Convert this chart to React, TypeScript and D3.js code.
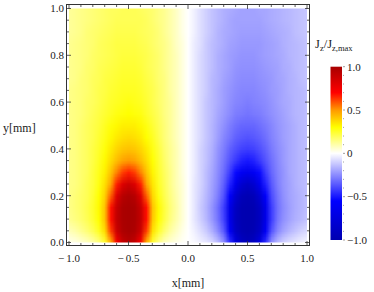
import * as d3 from "d3";
import { useMemo } from "react";

// sample grid (mm)
const gridX = [
  -1, -0.95, -0.9, -0.85, -0.8, -0.75, -0.7, -0.65, -0.6, -0.55, -0.5, -0.45, -0.4, -0.35, -0.3, -0.25, -0.2,
  -0.15, -0.1, -0.05, 0, 0.05, 0.1, 0.15, 0.2, 0.25, 0.3, 0.35, 0.4, 0.45, 0.5, 0.55, 0.6, 0.65, 0.7, 0.75,
  0.8, 0.85, 0.9, 0.95, 1,
];
const gridY = [0, 0.05, 0.1, 0.15, 0.2, 0.25, 0.3, 0.35, 0.4, 0.45, 0.5, 0.55, 0.6, 0.65, 0.7, 0.75, 0.8, 0.85, 0.9, 0.95, 1];

// Jz/Jz,max for x = -1 .. 0, one row per gridY value (red lobe)
const jzLeft = [
  [.02, .03, .05, .07, .10, .15, .24, .45, .72, .90, .95, .90, .72, .45, .24, .14, .08, .05, .03, .01, 0],
  [.08, .10, .13, .16, .20, .26, .37, .62, .88, .98, 1.0, .98, .88, .62, .36, .25, .17, .11, .07, .03, 0],
  [.13, .15, .17, .20, .24, .30, .42, .68, .91, .99, 1.0, .99, .91, .68, .41, .30, .22, .15, .10, .05, 0],
  [.14, .16, .18, .21, .25, .31, .42, .68, .90, .99, 1.0, .99, .90, .68, .42, .31, .23, .16, .11, .05, 0],
  [.14, .16, .18, .20, .24, .30, .39, .58, .82, .95, .98, .95, .82, .58, .38, .28, .21, .15, .10, .05, 0],
  [.14, .15, .17, .20, .23, .28, .36, .48, .66, .82, .88, .82, .66, .48, .35, .26, .20, .14, .09, .05, 0],
  [.14, .15, .17, .19, .23, .27, .33, .42, .53, .62, .66, .62, .53, .42, .32, .25, .19, .14, .09, .04, 0],
  [.14, .15, .17, .19, .22, .26, .31, .37, .43, .48, .50, .48, .43, .37, .30, .24, .18, .13, .09, .04, 0],
  [.14, .15, .17, .19, .22, .25, .29, .34, .38, .41, .42, .41, .38, .34, .28, .23, .17, .13, .09, .04, 0],
  [.14, .15, .17, .19, .21, .24, .27, .31, .34, .36, .37, .36, .34, .30, .26, .21, .16, .12, .08, .04, 0],
  [.14, .15, .17, .19, .21, .23, .26, .29, .31, .33, .33, .33, .31, .28, .24, .20, .16, .12, .08, .04, 0],
  [.14, .15, .16, .18, .20, .22, .24, .26, .28, .29, .30, .29, .28, .25, .22, .19, .15, .12, .08, .04, 0],
  [.14, .15, .16, .18, .19, .21, .23, .25, .26, .27, .28, .27, .26, .24, .21, .18, .15, .12, .08, .04, 0],
  [.14, .15, .16, .17, .19, .21, .22, .24, .25, .26, .26, .26, .25, .23, .21, .18, .15, .11, .08, .04, 0],
  [.13, .14, .16, .17, .19, .20, .22, .23, .24, .25, .25, .25, .24, .22, .20, .17, .15, .11, .08, .04, 0],
  [.13, .14, .15, .17, .18, .20, .21, .22, .23, .24, .24, .24, .23, .21, .19, .17, .14, .11, .08, .04, 0],
  [.13, .14, .15, .16, .18, .19, .20, .21, .22, .23, .23, .23, .22, .21, .19, .17, .14, .11, .08, .04, 0],
  [.13, .14, .15, .16, .17, .19, .20, .21, .22, .22, .22, .22, .21, .20, .18, .16, .14, .11, .07, .04, 0],
  [.12, .13, .14, .16, .17, .18, .19, .20, .21, .21, .21, .21, .20, .19, .18, .16, .13, .10, .07, .03, 0],
  [.12, .13, .14, .15, .16, .17, .18, .19, .20, .20, .20, .20, .20, .19, .17, .15, .13, .10, .07, .03, 0],
  [.12, .13, .14, .15, .16, .17, .18, .19, .19, .20, .20, .20, .19, .18, .17, .15, .13, .10, .07, .03, 0],
];

// Jz/Jz,max for x = 0.05 .. 1 (blue lobe)
const jzRight = [
  [-.01, -.03, -.05, -.08, -.14, -.24, -.45, -.72, -.90, -.95, -.90, -.72, -.45, -.24, -.15, -.10, -.07, -.05, -.03, -.02],
  [-.03, -.07, -.11, -.17, -.25, -.36, -.62, -.88, -.98, -1.0, -.98, -.88, -.62, -.37, -.26, -.20, -.16, -.13, -.10, -.08],
  [-.05, -.10, -.15, -.22, -.30, -.41, -.68, -.91, -.99, -1.0, -.99, -.91, -.68, -.42, -.30, -.24, -.20, -.17, -.15, -.13],
  [-.05, -.11, -.16, -.23, -.31, -.42, -.68, -.90, -.99, -1.0, -.99, -.90, -.68, -.42, -.31, -.25, -.21, -.18, -.16, -.14],
  [-.05, -.10, -.15, -.21, -.28, -.38, -.58, -.82, -.95, -.98, -.95, -.82, -.58, -.39, -.30, -.24, -.20, -.18, -.16, -.14],
  [-.05, -.09, -.14, -.20, -.26, -.35, -.48, -.66, -.82, -.88, -.82, -.66, -.48, -.36, -.28, -.23, -.20, -.17, -.15, -.14],
  [-.04, -.09, -.14, -.19, -.25, -.32, -.42, -.53, -.62, -.66, -.62, -.53, -.42, -.33, -.27, -.23, -.19, -.17, -.15, -.14],
  [-.04, -.09, -.13, -.18, -.24, -.30, -.37, -.43, -.48, -.50, -.48, -.43, -.37, -.31, -.26, -.22, -.19, -.17, -.15, -.14],
  [-.04, -.09, -.13, -.17, -.23, -.28, -.34, -.38, -.41, -.42, -.41, -.38, -.34, -.29, -.25, -.22, -.19, -.17, -.15, -.14],
  [-.04, -.08, -.12, -.16, -.21, -.26, -.30, -.34, -.36, -.37, -.36, -.34, -.31, -.27, -.24, -.21, -.19, -.17, -.15, -.14],
  [-.04, -.08, -.12, -.16, -.20, -.24, -.28, -.31, -.33, -.33, -.33, -.31, -.29, -.26, -.23, -.21, -.19, -.17, -.15, -.14],
  [-.04, -.08, -.12, -.15, -.19, -.22, -.25, -.28, -.29, -.30, -.29, -.28, -.26, -.24, -.22, -.20, -.18, -.16, -.15, -.14],
  [-.04, -.08, -.12, -.15, -.18, -.21, -.24, -.26, -.27, -.28, -.27, -.26, -.25, -.23, -.21, -.19, -.18, -.16, -.15, -.14],
  [-.04, -.08, -.11, -.15, -.18, -.21, -.23, -.25, -.26, -.26, -.26, -.25, -.24, -.22, -.21, -.19, -.17, -.16, -.15, -.14],
  [-.04, -.08, -.11, -.15, -.17, -.20, -.22, -.24, -.25, -.25, -.25, -.24, -.23, -.22, -.20, -.19, -.17, -.16, -.14, -.13],
  [-.04, -.08, -.11, -.14, -.17, -.19, -.21, -.23, -.24, -.24, -.24, -.23, -.22, -.21, -.20, -.18, -.17, -.15, -.14, -.13],
  [-.04, -.08, -.11, -.14, -.17, -.19, -.21, -.22, -.23, -.23, -.23, -.22, -.21, -.20, -.19, -.18, -.16, -.15, -.14, -.13],
  [-.04, -.07, -.11, -.14, -.16, -.18, -.20, -.21, -.22, -.22, -.22, -.22, -.21, -.20, -.19, -.17, -.16, -.15, -.14, -.13],
  [-.03, -.07, -.10, -.13, -.16, -.18, -.19, -.20, -.21, -.21, -.21, -.21, -.20, -.19, -.18, -.17, -.16, -.14, -.13, -.12],
  [-.03, -.07, -.10, -.13, -.15, -.17, -.19, -.20, -.20, -.20, -.20, -.20, -.19, -.18, -.17, -.16, -.15, -.14, -.13, -.12],
  [-.03, -.07, -.10, -.13, -.15, -.17, -.18, -.19, -.20, -.20, -.20, -.19, -.19, -.18, -.17, -.16, -.15, -.14, -.13, -.12],
];

const xTickValues = [-1, -0.5, 0, 0.5, 1];
const xTickLabels = ["\u2212\u20091.0", "\u2212\u20090.5", "0.0", "0.5", "1.0"];
const yTickValues = [0, 0.2, 0.4, 0.6, 0.8, 1];
const yTickLabels = ["0.0", "0.2", "0.4", "0.6", "0.8", "1.0"];
const barTickValues = [-1, -0.5, 0, 0.5, 1];
const barTickLabels = ["\u22121.0", "\u22120.5", "0", "0.5", "1.0"];

const colorStops = [-1, -0.55, 0, 0.3, 0.5, 0.7, 1];
const colorRange = ["#0000b0", "#0000ff", "#ffffff", "#ffff00", "#ff9900", "#ff0000", "#a80000"];

const W = 374;
const H = 292;
const font = "'Liberation Serif', 'DejaVu Serif', serif";
const ink = "#333";

export default function App() {
  const x = d3.scaleLinear().domain([-1, 1]).range([69, 307]);
  const y = d3.scaleLinear().domain([0, 1]).range([242.5, 8.5]);
  const bar = d3.scaleLinear().domain([-1, 1]).range([240, 66.7]);
  const color = d3.scaleLinear<string>().domain(colorStops).range(colorRange).clamp(true);

  const frame = { x0: 66.5, x1: 309.5, y0: 4.5, y1: 245.5 };
  const barX0 = 330.5;
  const barX1 = 342;

  const href = useMemo(() => {
    const rows = jzLeft.map((r, j) => r.concat(jzRight[j]));
    const w = gridX.length;
    const h = gridY.length;
    const canvas = document.createElement("canvas");
    canvas.width = w;
    canvas.height = h;
    const ctx = canvas.getContext("2d")!;
    const img = ctx.createImageData(w, h);
    rows.forEach((row, j) => {
      row.forEach((v, i) => {
        const c = d3.rgb(color(v));
        const k = ((h - 1 - j) * w + i) * 4;
        img.data[k] = c.r;
        img.data[k + 1] = c.g;
        img.data[k + 2] = c.b;
        img.data[k + 3] = 255;
      });
    });
    ctx.putImageData(img, 0, 0);
    return canvas.toDataURL();
  }, []);

  const dx = (gridX[1] - gridX[0]) / 2;
  const dy = (gridY[1] - gridY[0]) / 2;
  const imgX = x(gridX[0] - dx);
  const imgW = x(gridX[gridX.length - 1] + dx) - imgX;
  const imgY = y(gridY[gridY.length - 1] + dy);
  const imgH = y(gridY[0] - dy) - imgY;

  const xMinor = x.ticks(20);
  const yMinor = y.ticks(20);
  const barMinor = bar.ticks(20);

  return (
    <svg width={W} height={H} style={{ position: "absolute", left: 0, top: 0, background: "#fff" }} fontFamily={font}>
      <defs>
        <clipPath id="dataClip">
          <rect x={x(-1)} y={y(1)} width={x(1) - x(-1)} height={y(0) - y(1)} />
        </clipPath>
        <linearGradient id="barGrad" x1="0" y1="1" x2="0" y2="0">
          {colorStops.map((s, i) => (
            <stop key={i} offset={(s + 1) / 2} stopColor={colorRange[i]} />
          ))}
        </linearGradient>
      </defs>

      <image
        href={href}
        x={imgX}
        y={imgY}
        width={imgW}
        height={imgH}
        preserveAspectRatio="none"
        clipPath="url(#dataClip)"
      />

      {/* frame */}
      <rect x={frame.x0} y={frame.y0} width={frame.x1 - frame.x0} height={frame.y1 - frame.y0} fill="none" stroke={ink} strokeWidth={1} />

      {/* x ticks, bottom and top */}
      {xMinor.map((t, i) => {
        const major = xTickValues.some((m) => Math.abs(m - t) < 1e-9);
        const len = major ? 4.5 : 2.5;
        return (
          <g key={"xt" + i} stroke={ink} strokeWidth={0.8}>
            <line x1={x(t)} x2={x(t)} y1={frame.y1} y2={frame.y1 - len} />
            <line x1={x(t)} x2={x(t)} y1={frame.y0} y2={frame.y0 + len} />
          </g>
        );
      })}
      {yMinor.map((t, i) => {
        const major = yTickValues.some((m) => Math.abs(m - t) < 1e-9);
        const len = major ? 4.5 : 2.5;
        return (
          <g key={"yt" + i} stroke={ink} strokeWidth={0.8}>
            <line x1={frame.x0} x2={frame.x0 + len} y1={y(t)} y2={y(t)} />
            <line x1={frame.x1} x2={frame.x1 - len} y1={y(t)} y2={y(t)} />
          </g>
        );
      })}

      {xTickValues.map((t, i) => (
        <text key={"xl" + i} x={x(t)} y={262} textAnchor="middle" fontSize={11} fill="#222">
          {xTickLabels[i]}
        </text>
      ))}
      {yTickValues.map((t, i) => (
        <text key={"yl" + i} x={frame.x0 - 2.5} y={y(t) + 3.8} textAnchor="end" fontSize={11} fill="#222">
          {yTickLabels[i]}
        </text>
      ))}

      <text x={188} y={287} textAnchor="middle" fontSize={12} fill="#222">x[mm]</text>
      <text x={3} y={132} fontSize={12} fill="#222">y[mm]</text>

      {/* colour bar */}
      <rect x={barX0} y={bar(1)} width={barX1 - barX0} height={bar(-1) - bar(1)} fill="url(#barGrad)" />
      {barMinor.map((t, i) => {
        const major = barTickValues.some((m) => Math.abs(m - t) < 1e-9);
        return (
          <line key={"bt" + i} x1={barX1 + 1} x2={barX1 + (major ? 3 : 2)} y1={bar(t)} y2={bar(t)} stroke="#888" strokeWidth={0.8} />
        );
      })}
      {barTickValues.map((t, i) => (
        <text key={"bl" + i} x={barX1 + 5} y={bar(t) + 3.8} fontSize={11} fill="#222">
          {barTickLabels[i]}
        </text>
      ))}
      <text x={315} y={48} fontSize={12.5} fill="#222">
        J<tspan fontSize={8.5} dy={2.5}>z</tspan>
        <tspan dy={-2.5}>/J</tspan>
        <tspan fontSize={8.5} dy={2.5}>z,max</tspan>
      </text>
    </svg>
  );
}
